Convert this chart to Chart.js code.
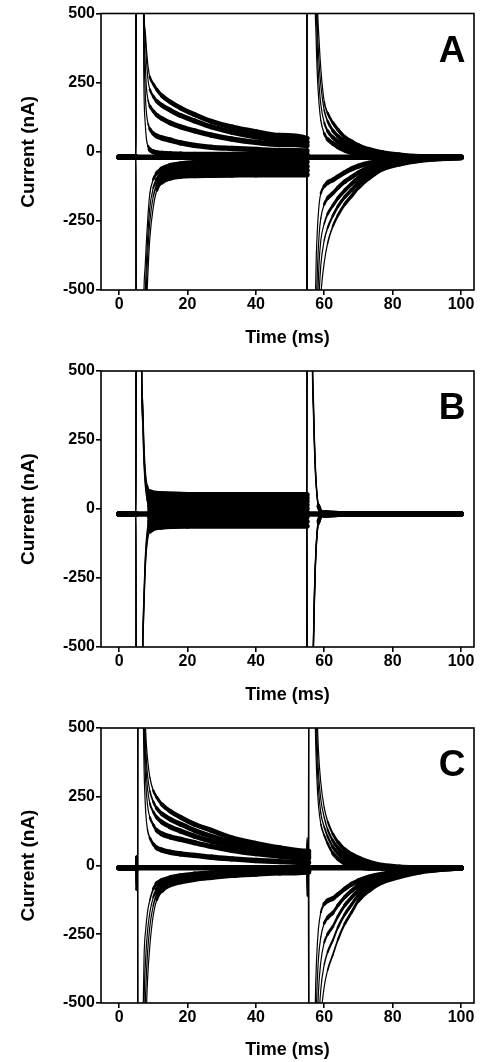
<!DOCTYPE html>
<html><head><meta charset="utf-8">
<script src="https://cdn.jsdelivr.net/npm/chart.js@4.4.0/dist/chart.umd.min.js"></script>
<style>
html,body{margin:0;padding:0;background:#fff;}
body{width:480px;height:1062px;position:relative;overflow:hidden;}
canvas{position:absolute;left:0;}
</style></head><body>
<canvas id="cA" width="480" height="357" style="top:0px"></canvas>
<canvas id="cB" width="480" height="357" style="top:357px"></canvas>
<canvas id="cC" width="480" height="348" style="top:714px"></canvas>
<script>
// ---------- shared ticks ----------
const xTicks = [0, 20, 40, 60, 80, 100];
const yTicks = [-500, -250, 0, 250, 500];
const xRange = [-5.3, 103.8];
const yRange = [-500, 500];
const panelLetters = ['A', 'B', 'C'];
const xLabel = 'Time (ms)';
const yLabel = 'Current (nA)';

// ---------- time grids (ms) ----------
const tPre = [0, 4.95];
const tA1 = [5, 6.8, 7.2, 7.6, 8, 8.5, 9, 10, 11, 12.5, 15, 18, 22, 27, 33, 40, 47, 54.95];
const tA2 = [55, 56.8, 57.2, 57.6, 58, 58.5, 59, 60, 61, 62.5, 64, 66, 68, 70, 73, 77, 82, 88, 94, 100];

// ---------- Panel A (nA) ----------
const A_hold = [-20, -20];
const A_baseT = [0, 100];
const A_baseV = [-20, -20];
const A_p1_on = [2000, 2000, 560, 440, 370, 305, 270, 245, 225, 203, 180, 158, 135, 110, 89, 72, 59, 48];
const A_p2_on = [2000, 1800, 540, 420, 330, 255, 225, 200, 183, 168, 150, 131, 112, 90, 71, 54, 43, 34];
const A_p3_on = [2000, 1700, 520, 330, 230, 185, 165, 147, 133, 120, 104, 90, 76, 60, 46, 34, 27, 22];
const A_p4_on = [2000, 1600, 480, 230, 140, 100, 82, 66, 57, 50, 42, 32, 23, 16, 12, 8, 5, 3];
const A_p5_on = [2000, 1500, 300, 110, 45, 20, 8, 0, -4, -6, -8, -9, -10, -10, -10, -10, -10, -10];
const A_n1_on = [-2000, -1500, -560, -420, -320, -220, -150, -100, -78, -62, -50, -44, -40, -38, -37, -37, -37, -37];
const A_n2_on = [-2000, -1800, -800, -540, -400, -280, -200, -130, -100, -80, -66, -58, -55, -54, -53, -53, -53, -53];
const A_n3_on = [-2000, -2000, -1100, -680, -480, -340, -250, -160, -120, -95, -80, -72, -70, -69, -68, -68, -68, -68];
const A_n4_on = [-2000, -2000, -1400, -850, -580, -420, -310, -200, -140, -110, -95, -88, -86, -85, -84, -83, -83, -83];
const A_p1_off = [-2000, -2000, -2000, -1500, -950, -650, -520, -400, -330, -270, -230, -190, -160, -130, -96, -62, -44, -31, -25, -21];
const A_p2_off = [-2000, -2000, -1800, -1200, -750, -520, -410, -320, -275, -232, -198, -164, -138, -112, -84, -56, -40, -29, -24, -21];
const A_p3_off = [-2000, -2000, -1500, -900, -580, -400, -320, -260, -225, -195, -168, -140, -116, -95, -72, -50, -36, -27, -23, -21];
const A_p4_off = [-2000, -2000, -1200, -650, -430, -300, -240, -190, -168, -150, -130, -108, -92, -76, -58, -42, -32, -25, -22, -20];
const A_p5_off = [-2000, -2000, -800, -420, -280, -190, -150, -125, -112, -102, -90, -75, -62, -52, -42, -34, -27, -23, -21, -20];
const A_n1_off = [2000, 2000, 700, 420, 270, 170, 113, 66, 45, 30, 18, 6, -3, -10, -16, -19, -20, -20, -20, -20];
const A_n2_off = [2000, 2000, 900, 560, 360, 240, 170, 105, 75, 52, 36, 20, 8, -2, -10, -16, -19, -20, -20, -20];
const A_n3_off = [2000, 2000, 1200, 700, 450, 320, 240, 150, 110, 77, 56, 34, 20, 8, -3, -11, -16, -19, -20, -20];
const A_n4_off = [2000, 2000, 1500, 850, 540, 400, 300, 180, 140, 105, 80, 52, 36, 22, 8, -4, -12, -18, -20, -20];

// ---------- Panel B (nA) ----------
const tB1 = [5, 6.3, 6.6, 6.9, 7.2, 7.5, 7.8, 8.2, 9, 12, 20, 30, 40, 50, 54.95];
const tB2 = [55, 56.2, 56.5, 56.8, 57.1, 57.4, 57.8, 58.3, 60, 70, 80, 90, 100];
const B_hold = [-18, -18];
const B_baseT = [0, 100];
const B_baseV = [-18, -18];
const B_s1_on = [2000, 2000, 520, 390, 260, 170, 120, 85, 62, 55, 52, 52, 52, 52, 52];
const B_s2_on = [2000, 2000, 500, 370, 240, 155, 105, 72, 50, 43, 40, 40, 40, 40, 40];
const B_s3_on = [2000, 1800, 480, 350, 220, 140, 92, 60, 38, 31, 28, 28, 28, 28, 28];
const B_s4_on = [2000, 1700, 460, 330, 200, 125, 80, 48, 25, 18, 15, 15, 15, 15, 15];
const B_s5_on = [2000, 1600, 440, 310, 185, 110, 65, 35, 12, 5, 2, 2, 2, 2, 2];
const B_s6_on = [-2000, -2000, -900, -480, -330, -220, -140, -80, -30, -16, -12, -12, -12, -12, -12];
const B_s7_on = [-2000, -2000, -950, -500, -350, -235, -155, -95, -46, -32, -28, -28, -28, -28, -28];
const B_s8_on = [-2000, -2000, -1000, -520, -370, -250, -170, -110, -62, -49, -45, -45, -45, -45, -45];
const B_s9_on = [-2000, -2000, -1050, -540, -390, -265, -185, -125, -80, -66, -62, -62, -62, -62, -62];
const B_s1_off = [-2000, -2000, -1000, -560, -360, -220, -115, -52, -22, -18, -18, -18, -18];
const B_s2_off = [-2000, -2000, -950, -540, -345, -212, -110, -50, -22, -18, -18, -18, -18];
const B_s3_off = [-2000, -2000, -900, -520, -330, -205, -105, -48, -21, -18, -18, -18, -18];
const B_s4_off = [-2000, -2000, -850, -500, -315, -198, -100, -45, -21, -18, -18, -18, -18];
const B_s5_off = [-2000, -1900, -800, -480, -300, -190, -95, -42, -20, -18, -18, -18, -18];
const B_s6_off = [2000, 1900, 560, 360, 225, 130, 55, 8, -15, -18, -18, -18, -18];
const B_s7_off = [2000, 2000, 600, 380, 240, 140, 60, 10, -15, -18, -18, -18, -18];
const B_s8_off = [2000, 2000, 640, 400, 255, 150, 65, 12, -14, -18, -18, -18, -18];
const B_s9_off = [2000, 2000, 680, 420, 270, 160, 70, 14, -14, -18, -18, -18, -18];
const B_bandT = [8.2, 12, 20, 30, 40, 50, 54.95];
const B_bandHi = [58, 50, 48, 48, 48, 48, 48];
const B_bandLo = [-60, -58, -58, -58, -58, -58, -58];

// ---------- Panel C (nA) ----------
const tC1 = [5, 5.05, 5.15, 5.4, 5.5, 6.2, 6.8, 7.3, 7.8, 8.3, 9, 10, 11, 12.5, 15, 18, 22, 27, 33, 40, 47, 54.95];
const tC2 = [55, 55.05, 55.15, 55.4, 55.5, 56.6, 57, 57.4, 57.8, 58.3, 59, 60, 61, 62.5, 64, 66, 68, 70, 73, 77, 82, 88, 94, 100];
const C_hold = [-8, -8];
const C_baseT = [0, 4.95, 5, 5.05, 5.15, 54.95, 55, 55.05, 55.15, 100];
const C_baseV = [-8, -8, 35, -90, -8, -8, 50, -95, -8, -8];
const C_p1_on = [35, -90, -8, -8, 2000, 2000, 1200, 700, 480, 390, 320, 272, 248, 222, 197, 175, 150, 128, 100, 80, 64, 52];
const C_p2_on = [35, -90, -8, -8, 2000, 2000, 1100, 620, 420, 330, 270, 232, 208, 188, 168, 150, 128, 106, 84, 66, 53, 43];
const C_p3_on = [35, -90, -8, -8, 2000, 2000, 1000, 560, 370, 280, 225, 195, 175, 158, 140, 125, 107, 88, 70, 54, 43, 34];
const C_p4_on = [35, -90, -8, -8, 2000, 1900, 900, 480, 300, 220, 175, 148, 128, 115, 104, 95, 83, 69, 55, 43, 34, 27];
const C_p5_on = [35, -90, -8, -8, 2000, 1800, 750, 350, 190, 130, 100, 78, 64, 56, 48, 42, 37, 30, 24, 18, 14, 11];
const C_n1_on = [35, -90, -8, -8, -2000, -1500, -700, -330, -230, -170, -125, -85, -66, -55, -45, -38, -32, -27, -23, -20, -18, -16];
const C_n2_on = [35, -90, -8, -8, -2000, -2000, -1000, -500, -330, -240, -170, -115, -86, -68, -54, -45, -38, -32, -28, -24, -21, -19];
const C_n3_on = [35, -90, -8, -8, -2000, -2000, -1300, -700, -450, -320, -220, -145, -105, -80, -62, -52, -44, -37, -32, -27, -24, -22];
const C_n4_on = [35, -90, -8, -8, -2000, -2000, -1600, -900, -600, -420, -290, -180, -125, -92, -70, -59, -50, -43, -36, -31, -27, -24];
const C_p1_off = [102, -38, 52, 52, -2000, -2000, -2000, -1700, -1100, -760, -560, -440, -380, -325, -270, -212, -170, -128, -92, -60, -40, -23, -14, -9];
const C_p2_off = [93, -47, 43, 43, -2000, -2000, -2000, -1300, -850, -600, -450, -360, -315, -272, -225, -178, -142, -108, -78, -52, -34, -20, -13, -9];
const C_p3_off = [84, -56, 34, 34, -2000, -2000, -1800, -1000, -650, -460, -350, -280, -250, -222, -185, -145, -116, -90, -66, -45, -30, -18, -12, -9];
const C_p4_off = [77, -63, 27, 27, -2000, -2000, -1400, -750, -480, -340, -260, -210, -190, -172, -145, -115, -92, -72, -54, -38, -25, -15, -11, -9];
const C_p5_off = [61, -79, 11, 11, -2000, -2000, -1000, -500, -330, -230, -170, -140, -128, -120, -105, -85, -68, -56, -43, -32, -20, -13, -10, -9];
const C_n1_off = [34, -106, -16, -16, 2000, 2000, 900, 500, 330, 220, 150, 110, 80, 45, 25, 8, -2, -6, -9, -9, -9, -9, -9, -9];
const C_n2_off = [31, -109, -19, -19, 2000, 2000, 1100, 620, 410, 280, 190, 140, 105, 68, 45, 24, 10, 2, -5, -8, -9, -9, -9, -9];
const C_n3_off = [28, -112, -22, -22, 2000, 2000, 1300, 750, 500, 340, 240, 175, 130, 90, 64, 40, 24, 12, 0, -6, -8, -9, -9, -9];
const C_n4_off = [26, -114, -24, -24, 2000, 2000, 1500, 900, 600, 420, 300, 210, 160, 115, 85, 58, 40, 27, 12, 0, -6, -8, -9, -9];

// ---------- builders ----------
function pts(ts, vs) { return ts.map((t, i) => ({ x: t, y: vs[i] })); }
function sweep(hold, t1, on, t2, off) { return pts(tPre, hold).concat(pts(t1, on), pts(t2, off)); }

// noisy trace look: wide where flat, thin where steep
const segWidth = c => {
  const dx = c.p1.x - c.p0.x, dy = c.p1.y - c.p0.y;
  const s = Math.abs(dy) / Math.max(Math.abs(dx), 1e-6);
  return Math.max(1.2, 5.4 / Math.sqrt(1 + s * s));
};
function traceDS(data) {
  return { data, borderColor: '#000', borderWidth: 2, pointRadius: 0, fill: false,
    borderCapStyle: 'round', borderJoinStyle: 'round',
    cubicInterpolationMode: 'monotone', segment: { borderWidth: segWidth } };
}

const FONT = '"Liberation Sans", Arial, Helvetica, sans-serif';
const boxPlugin = {
  id: 'panelBox',
  afterDatasetsDraw(chart, args, opts) {
    const { ctx, chartArea: a } = chart;
    ctx.save();
    ctx.strokeStyle = '#000';
    ctx.lineWidth = 1.6;
    ctx.strokeRect(a.left, a.top, a.right - a.left, a.bottom - a.top);
    ctx.fillStyle = '#000';
    ctx.font = 'bold 37px ' + FONT;
    ctx.textAlign = 'center';
    ctx.textBaseline = 'alphabetic';
    ctx.fillText(opts.letter, a.right - 22, a.top + 48);
    ctx.restore();
  }
};

function makePanel(id, datasets, letter, topPad, xAxisH, titleBottomPad) {
  new Chart(document.getElementById(id), {
    type: 'line',
    data: { datasets },
    options: {
      responsive: false, animation: false, events: [],
      layout: { padding: { left: 0, right: 6, top: topPad, bottom: 0 } },
      plugins: { legend: { display: false }, tooltip: { enabled: false }, panelBox: { letter } },
      scales: {
        x: {
          type: 'linear', min: xRange[0], max: xRange[1],
          afterBuildTicks: s => { s.ticks = xTicks.map(v => ({ value: v })); },
          afterFit: s => { s.height = xAxisH; },
          grid: { drawOnChartArea: false, drawTicks: true, tickLength: 5, color: '#000', lineWidth: 1.6 },
          border: { display: false },
          ticks: { color: '#000', padding: 0, maxRotation: 0, autoSkip: false,
            font: { family: FONT, size: 16, weight: 'bold' }, callback: v => String(v) },
          title: { display: true, text: xLabel, color: '#000', padding: { top: 0, bottom: titleBottomPad },
            font: { family: FONT, size: 18, weight: 'bold' } }
        },
        y: {
          type: 'linear', min: yRange[0], max: yRange[1],
          afterBuildTicks: s => { s.ticks = yTicks.map(v => ({ value: v })); },
          afterFit: s => { s.width = 101; },
          grid: { drawOnChartArea: false, drawTicks: true, tickLength: 5, color: '#000', lineWidth: 1.6 },
          border: { display: false },
          ticks: { color: '#000', padding: 1, autoSkip: false,
            font: { family: FONT, size: 16, weight: 'bold' }, callback: v => String(v) },
          title: { display: true, text: yLabel, color: '#000', padding: { top: 17, bottom: 0 },
            font: { family: FONT, size: 19, weight: 'bold' } }
        }
      }
    },
    plugins: [boxPlugin]
  });
}

// ---------- Panel A ----------
makePanel('cA', [
  traceDS(pts(A_baseT, A_baseV)),
  traceDS(sweep(A_hold, tA1, A_p1_on, tA2, A_p1_off)),
  traceDS(sweep(A_hold, tA1, A_p2_on, tA2, A_p2_off)),
  traceDS(sweep(A_hold, tA1, A_p3_on, tA2, A_p3_off)),
  traceDS(sweep(A_hold, tA1, A_p4_on, tA2, A_p4_off)),
  traceDS(sweep(A_hold, tA1, A_p5_on, tA2, A_p5_off)),
  traceDS(sweep(A_hold, tA1, A_n1_on, tA2, A_n1_off)),
  traceDS(sweep(A_hold, tA1, A_n2_on, tA2, A_n2_off)),
  traceDS(sweep(A_hold, tA1, A_n3_on, tA2, A_n3_off)),
  traceDS(sweep(A_hold, tA1, A_n4_on, tA2, A_n4_off))
], panelLetters[0], 13.5, 67, 8);

// ---------- Panel B ----------
makePanel('cB', [
  traceDS(pts(B_baseT, B_baseV)),
  traceDS(sweep(B_hold, tB1, B_s1_on, tB2, B_s1_off)),
  traceDS(sweep(B_hold, tB1, B_s2_on, tB2, B_s2_off)),
  traceDS(sweep(B_hold, tB1, B_s3_on, tB2, B_s3_off)),
  traceDS(sweep(B_hold, tB1, B_s4_on, tB2, B_s4_off)),
  traceDS(sweep(B_hold, tB1, B_s5_on, tB2, B_s5_off)),
  traceDS(sweep(B_hold, tB1, B_s6_on, tB2, B_s6_off)),
  traceDS(sweep(B_hold, tB1, B_s7_on, tB2, B_s7_off)),
  traceDS(sweep(B_hold, tB1, B_s8_on, tB2, B_s8_off)),
  traceDS(sweep(B_hold, tB1, B_s9_on, tB2, B_s9_off)),
  { data: pts(B_bandT, B_bandHi), borderWidth: 0, pointRadius: 0, fill: '+1', backgroundColor: '#000' },
  { data: pts(B_bandT, B_bandLo), borderWidth: 0, pointRadius: 0, fill: false }
], panelLetters[1], 14, 67, 8);

// ---------- Panel C ----------
makePanel('cC', [
  traceDS(pts(C_baseT, C_baseV)),
  traceDS(sweep(C_hold, tC1, C_p1_on, tC2, C_p1_off)),
  traceDS(sweep(C_hold, tC1, C_p2_on, tC2, C_p2_off)),
  traceDS(sweep(C_hold, tC1, C_p3_on, tC2, C_p3_off)),
  traceDS(sweep(C_hold, tC1, C_p4_on, tC2, C_p4_off)),
  traceDS(sweep(C_hold, tC1, C_p5_on, tC2, C_p5_off)),
  traceDS(sweep(C_hold, tC1, C_n1_on, tC2, C_n1_off)),
  traceDS(sweep(C_hold, tC1, C_n2_on, tC2, C_n2_off)),
  traceDS(sweep(C_hold, tC1, C_n3_on, tC2, C_n3_off)),
  traceDS(sweep(C_hold, tC1, C_n4_on, tC2, C_n4_off))
], panelLetters[2], 14, 59, 1);
</script>
</body></html>
